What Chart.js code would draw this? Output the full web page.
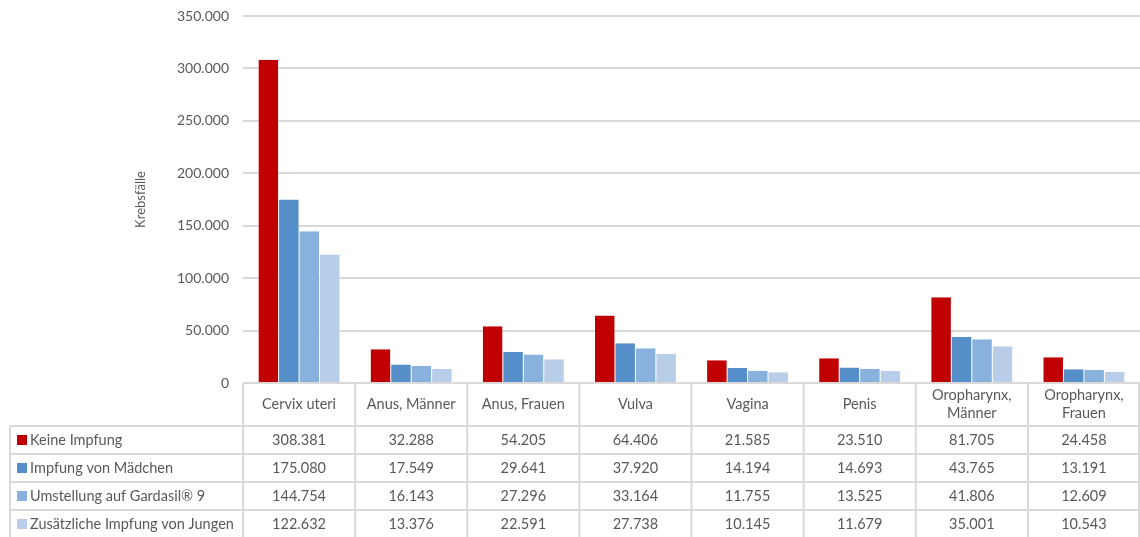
<!DOCTYPE html>
<html>
<head>
<meta charset="utf-8">
<script src="https://cdn.jsdelivr.net/npm/chart.js@4/dist/chart.umd.min.js"></script>
<style>
  html, body { margin: 0; padding: 0; background: #fff; }
  #wrap { width: 1140px; height: 537px; }
</style>
</head>
<body>
<div id="wrap"><canvas id="myChart"></canvas></div>
<script>
const ctx = document.getElementById('myChart').getContext('2d');

// Krebsfälle je Lokalisation und Szenario
const kategorien = [['Cervix uteri'], ['Anus, Männer'], ['Anus, Frauen'], ['Vulva'], ['Vagina'], ['Penis'], ['Oropharynx,', 'Männer'], ['Oropharynx,', 'Frauen']];
const keineImpfung = [308381, 32288, 54205, 64406, 21585, 23510, 81705, 24458];
const impfungMaedchen = [175080, 17549, 29641, 37920, 14194, 14693, 43765, 13191];
const gardasil9 = [144754, 16143, 27296, 33164, 11755, 13525, 41806, 12609];
const jungen = [122632, 13376, 22591, 27738, 10145, 11679, 35001, 10543];
const serienNamen = ['Keine Impfung', 'Impfung von Mädchen', 'Umstellung auf Gardasil® 9', 'Zusätzliche Impfung von Jungen'];
const farben = ['#C00000', '#558EC9', '#89B1DE', '#B8CDE8'];

const schrift = 'Lato, "Open Sans", sans-serif';
const textFarbe = '#595959';
const linienFarbe = '#D9D9D9';

function punkt(n) {
    return String(n).replace(/\B(?=(\d{3})+(?!\d))/g, '.');
}

// Datentabelle unter dem Diagramm
const tabelle = {
    id: 'tabelle',
    afterDraw(chart) {
        const c = chart.ctx;
        const x = chart.scales.x;
        const area = chart.chartArea;
        const breite = (x.right - x.left) / kategorien.length;
        const kopfUnten = area.bottom + 43;
        const zeile = 28;
        const links = 10;
        const unten = chart.height;

        c.save();
        c.strokeStyle = linienFarbe;
        c.lineWidth = 2;

        // senkrechte Linien
        for (let i = 0; i <= kategorien.length; i++) {
            const lx = Math.min(x.left + i * breite, chart.width - 1);
            c.beginPath();
            c.moveTo(lx, area.bottom);
            c.lineTo(lx, unten);
            c.stroke();
        }
        c.beginPath();
        c.moveTo(links, kopfUnten);
        c.lineTo(links, unten);
        c.stroke();

        // waagerechte Linien
        for (let r = 0; r <= serienNamen.length; r++) {
            const ly = kopfUnten + r * zeile;
            c.beginPath();
            c.moveTo(links, ly);
            c.lineTo(chart.width, ly);
            c.stroke();
        }

        c.fillStyle = textFarbe;
        c.font = '14.5px ' + schrift;
        c.textAlign = 'center';
        c.textBaseline = 'middle';

        // Kopfzeile
        kategorien.forEach((lab, i) => {
            const cx = x.getPixelForValue(i);
            const mitte = (area.bottom + kopfUnten) / 2;
            lab.forEach((t, k) => {
                c.fillText(t, cx, mitte + (k - (lab.length - 1) / 2) * 18);
            });
        });

        const serien = [keineImpfung, impfungMaedchen, gardasil9, jungen];
        serien.forEach((werte, r) => {
            const my = kopfUnten + r * zeile + zeile / 2;
            c.fillStyle = farben[r];
            c.fillRect(17, my - 5, 10, 10);
            c.fillStyle = textFarbe;
            c.textAlign = 'left';
            c.fillText(serienNamen[r], 30, my);
            c.textAlign = 'center';
            werte.forEach((v, i) => {
                c.fillText(punkt(v), x.getPixelForValue(i), my);
            });
        });
        c.restore();
    }
};

const myChart = new Chart(ctx, {
    type: 'bar',
    data: {
        labels: kategorien.map(k => k.join(' ')),
        datasets: serienNamen.map((name, i) => ({
            label: name,
            data: [keineImpfung, impfungMaedchen, gardasil9, jungen][i],
            backgroundColor: farben[i],
            borderColor: '#ffffff',
            borderWidth: { left: 0.5, right: 0.5, top: 0, bottom: 0 },
            barPercentage: 1,
            categoryPercentage: 0.73
        }))
    },
    options: {
        responsive: true,
        maintainAspectRatio: false,
        animation: false,
        layout: { padding: { left: 125, top: 16, right: 0, bottom: 154 } },
        plugins: {
            legend: { display: false },
            tooltip: { enabled: false }
        },
        scales: {
            x: {
                display: false
            },
            y: {
                min: 0,
                max: 350000,
                ticks: {
                    stepSize: 50000,
                    padding: 14,
                    color: textFarbe,
                    font: { family: schrift, size: 14 },
                    callback: v => punkt(v)
                },
                grid: { color: linienFarbe, lineWidth: 2, drawTicks: false },
                border: { display: false },
                title: {
                    display: true,
                    text: 'Krebsfälle',
                    color: textFarbe,
                    font: { family: schrift, size: 13 },
                    padding: { top: 8, bottom: 0 }
                },
                afterFit: s => {
                    s.width = 118;
                    s.paddingTop = 0;
                    s.paddingBottom = 0;
                }
            }
        }
    },
    plugins: [tabelle]
});
</script>
</body>
</html>
